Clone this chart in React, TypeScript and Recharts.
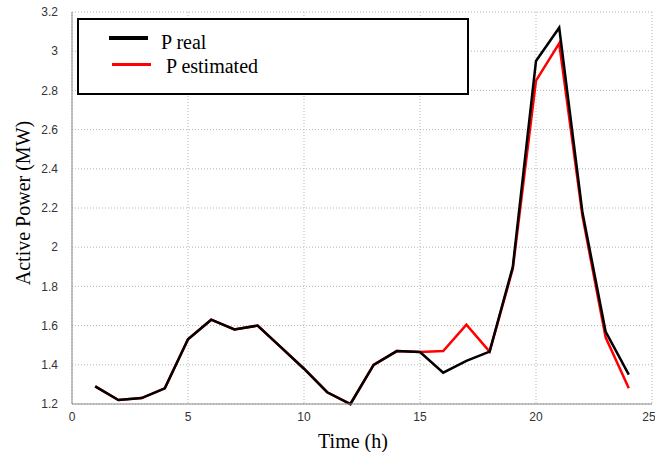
import {
  LineChart,
  Line,
  XAxis,
  YAxis,
  CartesianGrid,
  Legend,
} from "recharts";

const hours = [1, 2, 3, 4, 5, 6, 7, 8, 9, 10, 11, 12, 13, 14, 15, 16, 17, 18, 19, 20, 21, 22, 23, 24];
const realPower = [1.29, 1.22, 1.23, 1.28, 1.53, 1.63, 1.58, 1.6, 1.49, 1.38, 1.26, 1.2, 1.4, 1.47, 1.465, 1.36, 1.42, 1.467, 1.9, 2.95, 3.12, 2.18, 1.57, 1.35];
const estimatedPower = [1.29, 1.22, 1.23, 1.28, 1.53, 1.63, 1.58, 1.6, 1.49, 1.38, 1.26, 1.2, 1.4, 1.47, 1.465, 1.47, 1.605, 1.467, 1.89, 2.85, 3.04, 2.16, 1.54, 1.28];
const xTicks = [0, 5, 10, 15, 20, 25];
const yTicks = [1.2, 1.4, 1.6, 1.8, 2, 2.2, 2.4, 2.6, 2.8, 3, 3.2];

const data = hours.map((h, i) => ({
  hour: h,
  real: realPower[i],
  estimated: estimatedPower[i],
}));

const axisGray = "#8a8a8a";
const tickStyle = { fill: "#333", fontSize: 12, fontFamily: "Liberation Sans, Arial, sans-serif" };
const serif = "Liberation Serif, Times New Roman, serif";

const LegendBox = () => (
  <div
    style={{
      position: "relative",
      width: 392,
      height: 77,
      boxSizing: "border-box",
      border: "2px solid #000",
      background: "#fff",
      fontFamily: serif,
      fontSize: 20,
      color: "#000",
    }}
  >
    <span style={{ position: "absolute", left: 30, top: 15.5, width: 39, height: 4, background: "#000" }} />
    <span style={{ position: "absolute", left: 82, top: 11.5, lineHeight: "20px", whiteSpace: "nowrap" }}>P real</span>
    <span style={{ position: "absolute", left: 33, top: 43, width: 39, height: 3, background: "#ff0000" }} />
    <span style={{ position: "absolute", left: 87, top: 36, lineHeight: "20px", whiteSpace: "nowrap" }}>P estimated</span>
  </div>
);

export default function App() {
  return (
    <div style={{ position: "absolute", left: 0, top: 0, background: "#fff" }}>
      <LineChart
        width={655}
        height={452}
        data={data}
        margin={{ top: 12, right: 3, bottom: 0, left: 0 }}
      >
        <CartesianGrid stroke="#b5b5b5" strokeDasharray="1 2" />
        <XAxis
          dataKey="hour"
          type="number"
          domain={[0, 25]}
          ticks={xTicks}
          tick={tickStyle}
          tickLine={false}
          axisLine={{ stroke: axisGray }}
          height={48}
          tickMargin={2}
          label={{
            value: "Time (h)",
            position: "insideBottom",
            offset: 4,
            dx: -9,
            fill: "#000",
            fontSize: 20,
            fontFamily: serif,
            fontWeight: 400,
          }}
        />
        <XAxis xAxisId="top" orientation="top" dataKey="hour" type="number" domain={[0, 25]} height={0} tick={false} tickLine={false} axisLine={{ stroke: axisGray }} />
        <YAxis
          type="number"
          domain={[1.2, 3.2]}
          ticks={yTicks}
          tick={tickStyle}
          tickLine={false}
          axisLine={{ stroke: axisGray }}
          width={72}
          tickMargin={8}
          label={{
            value: "Active Power (MW)",
            angle: -90,
            position: "center",
            dx: -13,
            dy: -5,
            fill: "#000",
            fontSize: 20,
            fontFamily: serif,
            fontWeight: 400,
          }}
        />
        <YAxis yAxisId="right" orientation="right" type="number" domain={[1.2, 3.2]} width={0} tick={false} tickLine={false} axisLine={{ stroke: axisGray }} />
        <Legend
          layout="horizontal"
          verticalAlign="middle"
          align="center"
          wrapperStyle={{ position: "absolute", left: 77, top: 18, width: 392, height: 77 }}
          content={() => <LegendBox />}
        />
        <Line
          type="linear"
          dataKey="estimated"
          name="P estimated"
          stroke="#ff0000"
          strokeWidth={2.5}
          dot={false}
          isAnimationActive={false}
        />
        <Line
          type="linear"
          dataKey="real"
          name="P real"
          stroke="#000"
          strokeWidth={2.5}
          dot={false}
          isAnimationActive={false}
        />
      </LineChart>
    </div>
  );
}
